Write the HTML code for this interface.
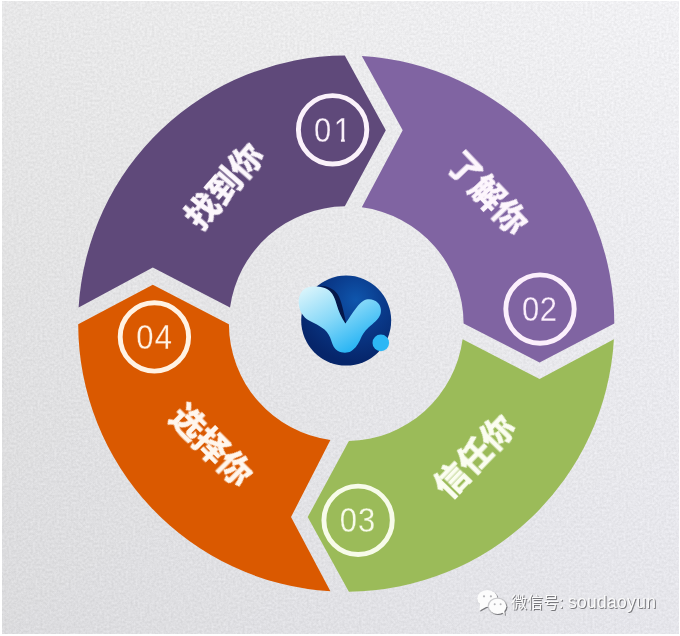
<!DOCTYPE html>
<html lang="zh-CN">
<head>
<meta charset="utf-8">
<title>找到你 了解你 信任你 选择你</title>
<style>
  html, body { margin: 0; padding: 0; background: #ffffff; }
  body { width: 680px; height: 636px; overflow: hidden; position: relative;
         font-family: "Liberation Sans", "Noto Sans CJK SC", sans-serif; }
  svg { position: absolute; left: 0; top: 0; display: block; }
  .num { font-family: "Liberation Sans", sans-serif; font-size: 36px;
          text-anchor: middle; stroke-width: 0.25px; }
  .lab { font-family: "Liberation Sans", "Noto Sans CJK SC", sans-serif; font-weight: 700;
          font-size: 33px; text-anchor: middle; stroke-width: 1.1px; }
  .wm  { font-family: "Liberation Sans", "Noto Sans CJK SC", sans-serif; font-size: 16px; fill: #fbfbfb; }
  .lat { font-size: 17.5px; letter-spacing: 0.3px; }
</style>
</head>
<body>
<svg width="680" height="636" viewBox="0 0 680 636">
  <defs>
    <linearGradient id="bg" gradientUnits="userSpaceOnUse" x1="0" y1="636" x2="619.7" y2="-148.8">
      <stop offset="0" stop-color="#dadadb"/>
      <stop offset="1" stop-color="#f4f4f5"/>
    </linearGradient>
    <linearGradient id="tint" gradientUnits="userSpaceOnUse" x1="120" y1="100" x2="640" y2="600">
      <stop offset="0" stop-color="#e6e6ff" stop-opacity="0"/>
      <stop offset="1" stop-color="#e6e6ff" stop-opacity="0.18"/>
    </linearGradient>
    <filter id="noise" x="0" y="0" width="100%" height="100%" color-interpolation-filters="sRGB">
      <feTurbulence type="fractalNoise" baseFrequency="0.42" numOctaves="2" seed="11" result="t"/>
      <feColorMatrix in="t" type="matrix" values="1 0 0 0 0  1 0 0 0 0  1 0 0 0 0  0 0 0 0 1" result="g"/>
      <feComposite in="SourceGraphic" in2="g" operator="arithmetic" k1="0" k2="1" k3="0.10" k4="-0.05"/>
    </filter>
    <filter id="ds" x="-10%" y="-30%" width="120%" height="170%" color-interpolation-filters="sRGB">
      <feDropShadow dx="0.9" dy="0.9" stdDeviation="0.2" flood-color="#6c6c70" flood-opacity="1"/>
    </filter>
    <radialGradient id="sph" gradientUnits="userSpaceOnUse" cx="356" cy="300" r="62">
      <stop offset="0" stop-color="#0f56ad"/>
      <stop offset="0.45" stop-color="#0a3b8c"/>
      <stop offset="1" stop-color="#06256a"/>
    </radialGradient>
    <linearGradient id="vg" gradientUnits="userSpaceOnUse" x1="312" y1="286" x2="350" y2="352">
      <stop offset="0" stop-color="#d6f3fb"/>
      <stop offset="0.5" stop-color="#86d8f8"/>
      <stop offset="1" stop-color="#27b4f4"/>
    </linearGradient>
  </defs>
  <rect x="0" y="0" width="680" height="636" fill="#ffffff"/>
  <g filter="url(#noise)">
    <rect x="2" y="1" width="677" height="633" fill="url(#bg)"/>
    <rect x="2" y="1" width="677" height="633" fill="url(#tint)"/>
  </g>
  <g id="ring">
    <path d="M78.6 307.5 A268.1 268.1 0 0 1 344.8 55.6 L385.8 130.3 L344.8 206.3 A117.4 117.4 0 0 0 230.0 307.5 L152.8 267.5 Z" fill="#5F497A"/>
    <path d="M361.8 56.0 A268.1 268.1 0 0 1 614.3 323.4 L539.6 362.6 L463.6 323.4 A117.4 117.4 0 0 0 361.8 207.3 L402.7 130.3 Z" fill="#8064A2"/>
    <path d="M613.9 339.2 A268.1 268.1 0 0 1 348.9 591.8 L307.7 517.1 L348.9 441.1 A117.4 117.4 0 0 0 462.6 339.2 L539.6 379.0 Z" fill="#9BBB59"/>
    <path d="M330.4 591.3 A268.1 268.1 0 0 1 78.2 324.2 L152.8 284.8 L228.9 324.2 A117.4 117.4 0 0 0 330.4 440.0 L291.0 517.1 Z" fill="#DA5900"/>
  </g>
  <g id="numbers" opacity="0.999">
    <circle cx="332.6" cy="129.8" r="34.2" fill="none" stroke="#fbf2fb" stroke-width="4.9"/>
    <clipPath id="one"><rect x="0.15" y="-30" width="22" height="27.1"/><rect x="9.70" y="-3.2" width="4.5" height="4.2"/></clipPath>
    <g transform="translate(332.6 141.9) scale(0.86 1)"><text x="-11.5" y="0" class="num" fill="#fbf2fb" stroke="#5F497A">0</text><text x="11.3" y="0" class="num" fill="#fbf2fb" stroke="#5F497A" clip-path="url(#one)">1</text></g>
    <circle cx="540.0" cy="309.1" r="34.2" fill="none" stroke="#fbf0fc" stroke-width="4.9"/>
    <text transform="translate(540.0 321.2) scale(0.86 1)" x="-10.9 9.8" y="0" class="num" fill="#fbf0fc" stroke="#8064A2">02</text>
    <circle cx="358.1" cy="520.3" r="34.2" fill="none" stroke="#f7fbea" stroke-width="4.9"/>
    <text transform="translate(358.1 532.4) scale(0.86 1)" x="-11.3 9.9" y="0" class="num" fill="#f7fbea" stroke="#9BBB59">03</text>
    <circle cx="154.4" cy="336.9" r="34.2" fill="none" stroke="#fff3e4" stroke-width="4.9"/>
    <text transform="translate(154.4 349.0) scale(0.86 1)" x="-11.0 10.5" y="0" class="num" fill="#fff3e4" stroke="#DA5900">04</text>
  </g>
  <g id="labels" opacity="0.999">
    <text class="lab" transform="translate(224.5 186.0) rotate(-49.0)" x="0" y="11.5" fill="#fdf8fd" stroke="#fdf8fd">找到你</text>
    <text class="lab" transform="translate(487.5 193.1) rotate(46.5)" x="0" y="11.5" fill="#fdf7fd" stroke="#fdf7fd">了解你</text>
    <text class="lab" transform="translate(474.7 456.3) rotate(-46.0)" x="0" y="11.5" fill="#fbfdf1" stroke="#fbfdf1">信任你</text>
    <text class="lab" transform="translate(211.6 445.4) rotate(45.0)" x="0" y="11.5" fill="#fff7ee" stroke="#fff7ee">选择你</text>
  </g>
  <g id="logo">
    <circle cx="346.2" cy="320.6" r="45" fill="url(#sph)"/>
    <path d="M317 285.800 C326 285 333.500 288.300 337.500 294 C341.500 300 343.300 311 346.500 324.500 L344.500 324 C340 316 337 308 335 300 C332 291 326 287 317 285.800 Z" fill="#05174a"/>
    <path d="M298.700 303 C298.200 293 304 287 312 286.600 C318 286.200 325 287 329.800 291 C333.500 294.500 335 299 336.500 304 C338.500 311 341.500 318 345.400 323.500 C348.500 319 352.500 312.500 356.600 307.400 C359 304.200 361 302.200 363.500 300.800 C368 298.300 374 299 378 303 C381 306.200 381.500 310.500 380.500 314 C379 319 373 323.500 368.500 327.500 C364 331.500 362 335.500 360.500 339 C358.500 343.500 356 348 351 351.300 C347 353.500 341.500 353 338 351 C334 348.700 332.500 344.500 331.200 340.500 C330 336.500 328 332.500 324.500 329.500 C320 325.700 314 323 309 320.400 C303.500 317.500 299.200 311.500 298.700 303 Z" fill="url(#vg)"/>
    <circle cx="380.8" cy="342.9" r="8.3" fill="#2db7f5"/>
  </g>
  <g id="watermark" opacity="0.999">
    <g filter="url(#ds)" fill="#fcfcfc">
      <ellipse cx="487.4" cy="598.5" rx="10.2" ry="8.6"/>
      <path d="M480 603.500 L479.300 610.800 L487 606.500 Z"/>
    </g>
    <ellipse cx="497.600" cy="606.300" rx="10" ry="8.800" fill="#c9c9cc"/>
    <g filter="url(#ds)" fill="#fcfcfc">
      <ellipse cx="497.6" cy="606.3" rx="8.8" ry="7.6"/>
      <path d="M501 611.500 L505 615.300 L504 609.500 Z"/>
    </g>
    <g fill="#b4b4b8">
      <circle cx="484" cy="596.3" r="1.1"/><circle cx="490.9" cy="596.3" r="1.1"/>
      <circle cx="494.7" cy="604.2" r="1"/><circle cx="500.6" cy="604.2" r="1"/>
    </g>
    <text class="wm" x="511" y="608.2" filter="url(#ds)">微信号: <tspan class="lat">soudaoyun</tspan></text>
  </g>
</svg>
</body>
</html>
